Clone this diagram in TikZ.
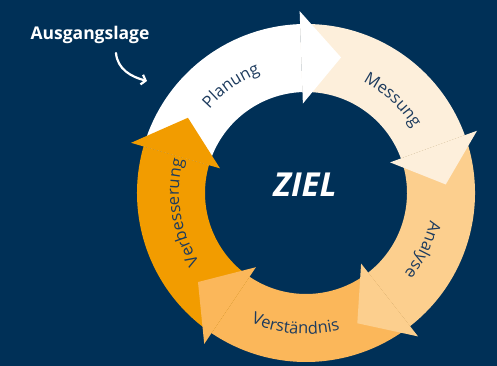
\documentclass[tikz,border=0pt]{standalone}
\usepackage{fontspec}
\setmainfont{Open Sans}
\usetikzlibrary{%
    decorations.text,%
    arrows.meta%
}

\definecolor{bgnavy}{HTML}{003057}
\definecolor{labelnavy}{HTML}{1D3B5E}
\definecolor{planwhite}{HTML}{FFFFFF}
\definecolor{messcream}{HTML}{FDEFDB}
\definecolor{analyselight}{HTML}{FCCF8E}
\definecolor{verstorange}{HTML}{FBB75A}
\definecolor{verborange}{HTML}{F29C00}

\begin{document}
\begin{tikzpicture}[
    x=1pt,y=1pt,
    % Text that follows the ring
    stagetext/.style={decorate,decoration={text along path,text align=center,
                      text color=labelnavy,
                      text={|\fontsize{16.5}{16.5}\selectfont|#1}}},
    headline/.style={text=white,font=\fontsize{17.5}{17.5}\selectfont\bfseries},
    ]

    % Background
    \fill[bgnavy] (0,0) rectangle (497,366);
    \useasboundingbox (0,0) rectangle (497,366);

    \begin{scope}[shift={(306,173)}]
    % Ring parts
    \fill[planwhite] (164:169pt) arc[start angle=164,end angle=92,radius=169pt]
        -- (92:101pt) arc[start angle=92,end angle=164,radius=101pt] -- cycle;
    \fill[messcream] (92:169pt) arc[start angle=92,end angle=20,radius=169pt]
        -- (20:101pt) arc[start angle=20,end angle=92,radius=101pt] -- cycle;
    \fill[analyselight] (20:169pt) arc[start angle=20,end angle=-52,radius=169pt]
        -- (-52:101pt) arc[start angle=-52,end angle=20,radius=101pt] -- cycle;
    \fill[verstorange] (-52:169pt) arc[start angle=-52,end angle=-124,radius=169pt]
        -- (-124:101pt) arc[start angle=-124,end angle=-52,radius=101pt] -- cycle;
    \fill[verborange] (-124:169pt) arc[start angle=-124,end angle=-196,radius=169pt]
        -- (-196:101pt) arc[start angle=-196,end angle=-124,radius=101pt] -- cycle;

    % Arrow heads
    \fill[planwhite] (92:89.5pt) -- (92:182pt) -- (75.5:140pt) -- cycle;
    \fill[messcream] (20:89.5pt) -- (20:182pt) -- (3.5:140pt) -- cycle;
    \fill[analyselight] (-52:89.5pt) -- (-52:182pt) -- (-68.5:140pt) -- cycle;
    \fill[verstorange] (-124:89.5pt) -- (-124:182pt) -- (-140.5:140pt) -- cycle;
    \fill[verborange] (164:89.5pt) -- (164:182pt) -- (147.5:140pt) -- cycle;

    % Stage names
    \path[stagetext=Planung] (152:128pt) arc[start angle=152,end angle=98,radius=128pt];
    \path[stagetext=Messung] (80:125pt) arc[start angle=80,end angle=14,radius=125pt];
    \path[stagetext=Analyse] (8:127pt) arc[start angle=8,end angle=-60,radius=127pt];
    \path[stagetext=Verständnis] (-128:141pt) arc[start angle=-128,end angle=-61,radius=141pt];
    \path[stagetext=Verbesserung] (228:127pt) arc[start angle=228,end angle=150,radius=127pt];
    \end{scope}

    % Goal in the middle
    \node[text=white,font=\fontsize{33}{33}\selectfont\bfseries\itshape] (goal) at (305,181) {ZIEL};

    % Starting point
    \node[headline] (startlabel) at (90,331) {Ausgangslage};
    \coordinate (arrowstart) at (116,313);
    \coordinate (arrowend) at (147,285);
    \draw[white,line width=2.2pt,line cap=round,-{Straight Barb[length=4pt,width=10pt]}]
        (arrowstart) to[out=-85,in=165] (arrowend);
\end{tikzpicture}
\end{document}
